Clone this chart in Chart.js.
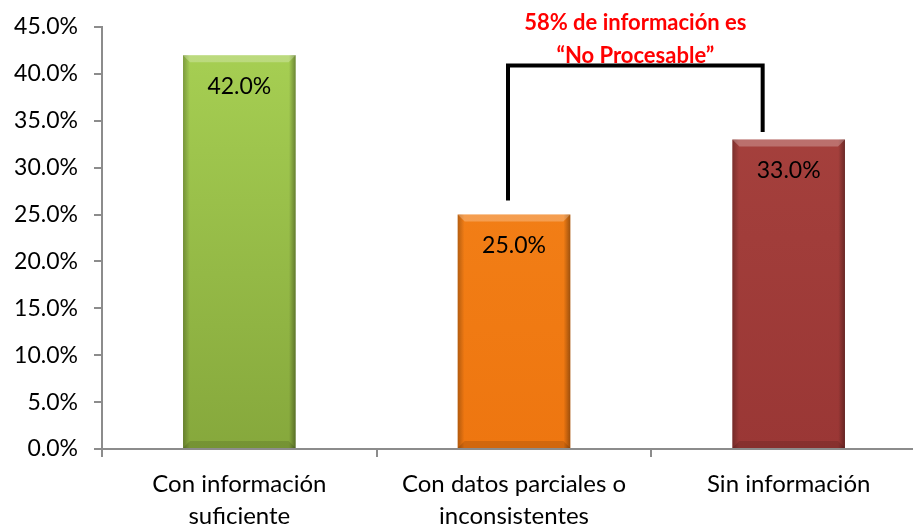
<!DOCTYPE html>
<html>
<head>
<meta charset="utf-8">
<script src="https://cdn.jsdelivr.net/npm/chart.js@4.4.0/dist/chart.umd.min.js"></script>
<style>
  html, body { margin: 0; padding: 0; background: #fff; overflow: hidden; }
  #wrap { width: 926px; height: 527px; }
</style>
</head>
<body>
<div id="wrap"><canvas id="chart" width="926" height="527"></canvas></div>
<script>
// data
const categories = [["Con información", "suficiente"], ["Con datos parciales o", "inconsistentes"], ["Sin información"]];
const shares = [0.42, 0.25, 0.33];
const barTop = ["#a8d154", "#f5841a", "#a8433f"];
const barBottom = ["#86a83c", "#ee7610", "#9a3735"];
const noteLines = ["58% de información es", "\u201cNo Procesable\u201d"];

const FONT = "Lato, 'Open Sans', sans-serif";

// gradient + bevel look on each bar
const bevelPlugin = {
  id: "bevel",
  afterDatasetsDraw(chart) {
    const ctx = chart.ctx;
    chart.getDatasetMeta(0).data.forEach((bar, i) => {
      const { x, y, base, width } = bar.getProps(["x", "y", "base", "width"], true);
      const l = x - width / 2, r = x + width / 2, b = 7;
      ctx.save();
      let g = ctx.createLinearGradient(l, 0, r, 0);
      g.addColorStop(0, "rgba(0,0,0,0.25)");
      g.addColorStop(0.06, "rgba(0,0,0,0)");
      g.addColorStop(0.94, "rgba(0,0,0,0)");
      g.addColorStop(1, "rgba(0,0,0,0.35)");
      ctx.fillStyle = g;
      ctx.fillRect(l, y, width, base - y);
      ctx.fillStyle = "rgba(255,255,255,0.25)";
      ctx.beginPath();
      ctx.moveTo(l, y); ctx.lineTo(r, y); ctx.lineTo(r - b, y + b); ctx.lineTo(l + b, y + b);
      ctx.closePath(); ctx.fill();
      ctx.fillStyle = "rgba(0,0,0,0.12)";
      ctx.beginPath();
      ctx.moveTo(l, base); ctx.lineTo(r, base); ctx.lineTo(r - b, base - b); ctx.lineTo(l + b, base - b);
      ctx.closePath(); ctx.fill();
      // value label
      ctx.fillStyle = "#000";
      ctx.font = "23px " + FONT;
      ctx.textAlign = "center";
      ctx.textBaseline = "middle";
      ctx.fillText((shares[i] * 100).toFixed(1) + "%", x, y + 31);
      ctx.restore();
    });
  }
};

// bracket joining the two "no procesable" bars
const bracketPlugin = {
  id: "bracket",
  afterDraw(chart) {
    const ctx = chart.ctx;
    const xs = chart.scales.x, ys = chart.scales.y;
    const x1 = xs.getPixelForValue(1) - 6;
    const x2 = xs.getPixelForValue(2) - 26;
    const yTop = ys.getPixelForValue(0.409);
    const yL = ys.getPixelForValue(shares[1] + 0.015);
    const yR = ys.getPixelForValue(shares[2] + 0.008);
    ctx.save();
    ctx.strokeStyle = "#000";
    ctx.lineWidth = 4;
    ctx.beginPath();
    ctx.moveTo(x1, yL); ctx.lineTo(x1, yTop); ctx.lineTo(x2, yTop); ctx.lineTo(x2, yR);
    ctx.stroke();
    ctx.fillStyle = "#ff0000";
    ctx.font = "bold 22px " + FONT;
    ctx.textAlign = "center";
    ctx.textBaseline = "middle";
    const cx = (x1 + x2) / 2;
    ctx.fillText(noteLines[0], cx, yTop - 43);
    ctx.fillText(noteLines[1], cx, yTop - 10);
    ctx.restore();
  }
};

new Chart(document.getElementById("chart"), {
  type: "bar",
  data: {
    labels: categories,
    datasets: [{
      data: shares,
      backgroundColor: (c) => {
        const a = c.chart.chartArea;
        if (!a) return barTop[c.dataIndex];
        const g = c.chart.ctx.createLinearGradient(0, a.top, 0, a.bottom);
        g.addColorStop(0, barTop[c.dataIndex]);
        g.addColorStop(1, barBottom[c.dataIndex]);
        return g;
      },
      borderWidth: 0,
      categoryPercentage: 1,
      barPercentage: 0.41
    }]
  },
  options: {
    responsive: false,
    animation: false,
    layout: { padding: { top: 27, left: 0, right: 0, bottom: 0 } },
    plugins: { legend: { display: false }, tooltip: { enabled: false } },
    scales: {
      y: {
        min: 0,
        max: 0.45,
        afterFit: (s) => { s.width = 102; s.paddingTop = 0; },
        ticks: {
          stepSize: 0.05,
          padding: 16,
          color: "#000",
          font: { family: FONT, size: 23, lineHeight: 1 },
          callback: (v) => (v * 100).toFixed(1) + "%"
        },
        grid: { drawOnChartArea: false, tickLength: 8, color: "#8c8c8c", lineWidth: 2 },
        border: { color: "#8c8c8c", width: 2 }
      },
      x: {
        afterFit: (s) => { s.height = 78; },
        ticks: {
          color: "#000",
          padding: 11,
          maxRotation: 0,
          font: { family: FONT, size: 24, lineHeight: 1.35 }
        },
        grid: { drawOnChartArea: false, tickLength: 8, color: "#8c8c8c", lineWidth: 2, offset: true },
        border: { color: "#8c8c8c", width: 2 }
      }
    }
  },
  plugins: [bevelPlugin, bracketPlugin]
});
</script>
</body>
</html>
